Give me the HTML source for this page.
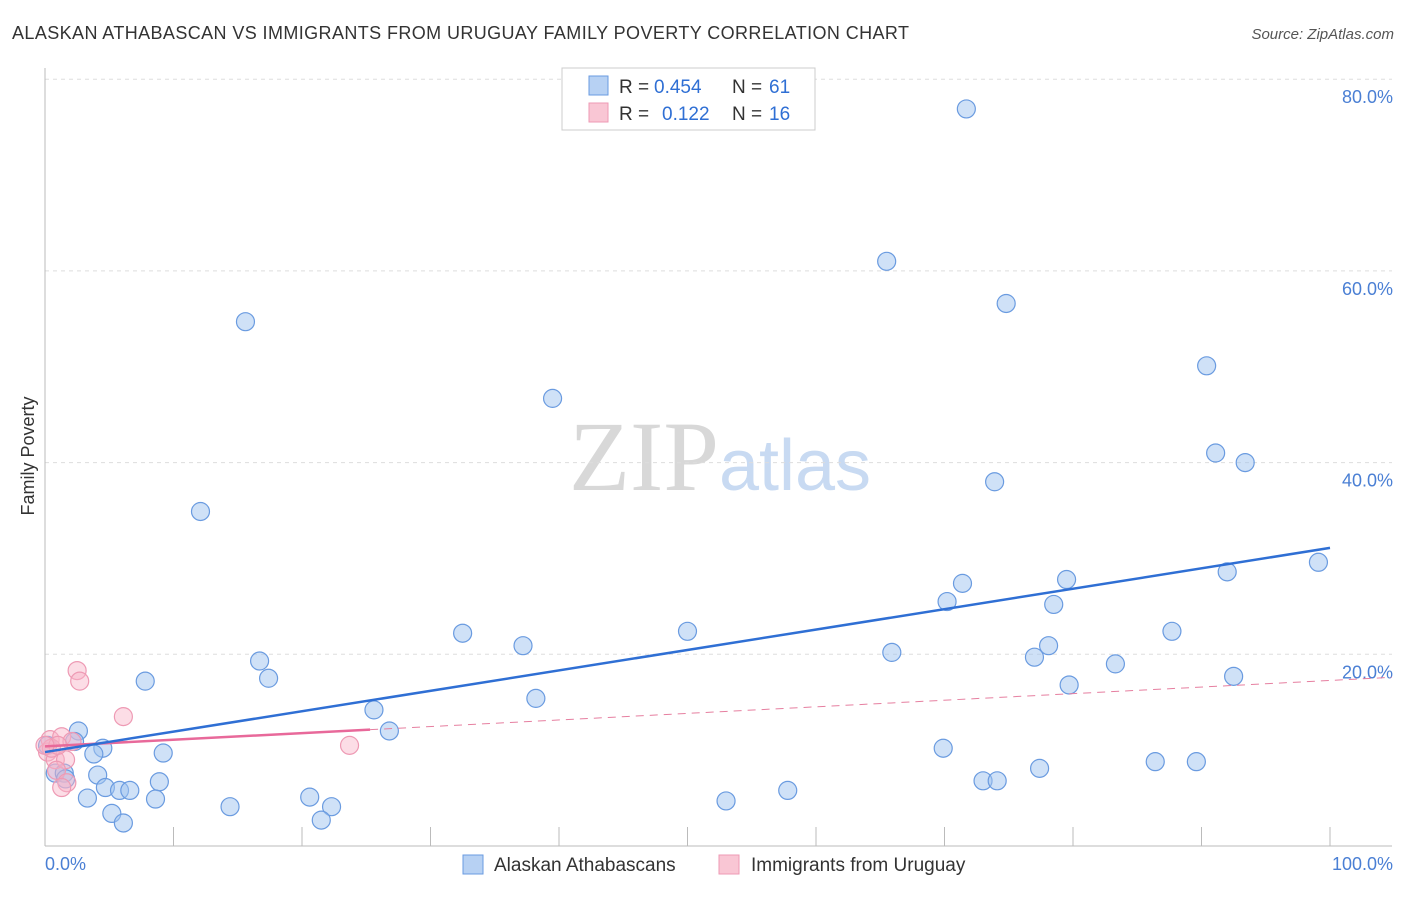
<!DOCTYPE html>
<html><head><meta charset="utf-8"><style>
body{margin:0;background:#fff;font-family:"Liberation Sans",sans-serif}
svg text{font-family:"Liberation Sans",sans-serif}
</style></head><body>
<svg width="1406" height="892">
<text x="12" y="39" font-size="18" fill="#333" letter-spacing="0.4">ALASKAN ATHABASCAN VS IMMIGRANTS FROM URUGUAY FAMILY POVERTY CORRELATION CHART</text>
<text x="1394" y="39" font-size="15" fill="#555" font-style="italic" text-anchor="end">Source: ZipAtlas.com</text>
<text x="720" y="490" font-size="100" fill="#ddd" text-anchor="middle" font-family="Liberation Serif"><tspan font-family="Liberation Serif" fill="#d8d8d8">ZIP</tspan><tspan font-family="Liberation Sans" fill="#c8daf2" font-size="72">atlas</tspan></text>
<g id="grid"></g><g id="axes"></g><g id="marks"></g>
<text x="34" y="456" font-size="18" fill="#333" text-anchor="middle" transform="rotate(-90 34 456)">Family Poverty</text>
<text x="45" y="870" font-size="18" fill="#4a7fd4">0.0%</text>
<text x="1393" y="870" font-size="18" fill="#4a7fd4" text-anchor="end">100.0%</text>
<g>
<rect x="562" y="68" width="253" height="62" fill="#fff" stroke="#ccc"/>
<rect x="589" y="76" width="19" height="19" fill="#b7d1f3" stroke="#6a9be0"/>
<rect x="589" y="103" width="19" height="19" fill="#f9c6d4" stroke="#ee9ab4"/>
<text x="619" y="93" font-size="19" fill="#333">R =</text>
<text x="654" y="93" font-size="19" fill="#2f6fd4">0.454</text>
<text x="732" y="93" font-size="19" fill="#333">N =</text>
<text x="769" y="93" font-size="19" fill="#2f6fd4">61</text>
<text x="619" y="120" font-size="19" fill="#333">R =</text>
<text x="662" y="120" font-size="19" fill="#2f6fd4">0.122</text>
<text x="732" y="120" font-size="19" fill="#333">N =</text>
<text x="769" y="120" font-size="19" fill="#2f6fd4">16</text>
</g>
<g>
<rect x="463" y="855" width="20" height="19" fill="#b7d1f3" stroke="#6a9be0"/>
<text x="494" y="871" font-size="19" fill="#333">Alaskan Athabascans</text>
<rect x="719" y="855" width="20" height="19" fill="#f9c6d4" stroke="#ee9ab4"/>
<text x="751" y="871" font-size="19" fill="#333">Immigrants from Uruguay</text>
</g>
</svg>
<script>
const yTicks=[20,40,60,80];
const yTickLabels=["20.0%","40.0%","60.0%","80.0%"];
const xTicks=[0,10,20,30,40,50,60,70,80,90,100];
const blueX=[71.7,65.5,74.8,15.6,90.4,39.5,91.1,93.4,73.9,12.1,99.1,92.0,71.4,79.5,70.2,78.5,32.5,50.0,87.7,37.2,78.1,65.9,77.0,16.7,83.3,7.8,17.4,92.5,79.7,38.2,25.6,2.6,26.8,4.5,3.8,9.2,69.9,86.4,89.6,77.4,0.8,1.5,4.1,73.0,74.1,8.9,4.7,5.8,6.6,57.8,3.3,8.6,20.6,53.0,14.4,22.3,5.2,6.1,21.5,0.2,1.6,2.3];
const blueY=[76.9,61.0,56.6,54.7,50.1,46.7,41.0,40.0,38.0,34.9,29.6,28.6,27.4,27.8,25.5,25.2,22.2,22.4,22.4,20.9,20.9,20.2,19.7,19.3,19.0,17.2,17.5,17.7,16.8,15.4,14.2,12.0,12.0,10.2,9.6,9.7,10.2,8.8,8.8,8.1,7.6,7.6,7.4,6.8,6.8,6.7,6.1,5.8,5.8,5.8,5.0,4.9,5.1,4.7,4.1,4.1,3.4,2.4,2.7,10.5,7.0,10.9];
const pinkX=[2.5,2.7,6.1,23.7,0.4,1.3,2.1,0.2,0.8,1.6,0.9,1.7,1.3,0.5,1.0,0];
const pinkY=[18.3,17.2,13.5,10.5,11.1,11.4,10.9,9.8,9.0,9.0,7.9,6.6,6.1,10.2,10.5,10.5];
const blueTrend=[9.8,31.1];
const pinkTrend=[10.4,17.6];
const X=v=>45+v*12.85, Y=v=>846-v*9.585;
const NS="http://www.w3.org/2000/svg";
function mk(t,a,p){const e=document.createElementNS(NS,t);for(const k in a)e.setAttribute(k,a[k]);p.appendChild(e);return e;}
const grid=document.getElementById('grid'),axes=document.getElementById('axes'),marks=document.getElementById('marks');
yTicks.forEach((v,i)=>{
 const l=mk('line',{x1:45,x2:1392,y1:Y(v),y2:Y(v),stroke:'#ddd','stroke-dasharray':'4,4'},grid);
 
 
 const t=mk('text',{x:1393,y:Y(v)+24,'font-size':18,fill:'#4a7fd4','text-anchor':'end'},grid);
 t.textContent=yTickLabels[i];
 
 
});
let a=mk('line',{x1:45,x2:45,y1:68,y2:846,stroke:'#bbb'},axes);


a=mk('line',{x1:45,x2:1392,y1:846,y2:846,stroke:'#bbb'},axes);


xTicks.forEach(v=>{const t=mk('line',{x1:X(v),x2:X(v),y1:827,y2:846,stroke:'#bbb'},axes);
 
 });
blueX.forEach((v,i)=>{const c=mk('circle',{cx:X(v),cy:Y(blueY[i]),r:9,fill:'rgba(160,196,240,0.5)',stroke:'#6a9be0','stroke-width':1.2},marks);
 
 });
pinkX.forEach((v,i)=>{const c=mk('circle',{cx:X(v),cy:Y(pinkY[i]),r:9,fill:'rgba(248,180,200,0.45)',stroke:'#ee9ab4','stroke-width':1.2},marks);
 
 });
const pAt=x=>pinkTrend[0]+(pinkTrend[1]-pinkTrend[0])*x/104.8;
let ln=mk('line',{x1:X(25.3),y1:Y(pAt(25.3)),x2:X(104.8),y2:Y(pAt(104.8)),stroke:'#e67fa0','stroke-width':1,'stroke-dasharray':'8,6'},marks);


ln=mk('line',{x1:X(0),y1:Y(pAt(0)),x2:X(25.3),y2:Y(pAt(25.3)),stroke:'#e8699a','stroke-width':2.5},marks);


ln=mk('line',{x1:X(0),y1:Y(blueTrend[0]),x2:X(100),y2:Y(blueTrend[1]),stroke:'#2f6fd4','stroke-width':2.5},marks);


</script>
</body></html>
